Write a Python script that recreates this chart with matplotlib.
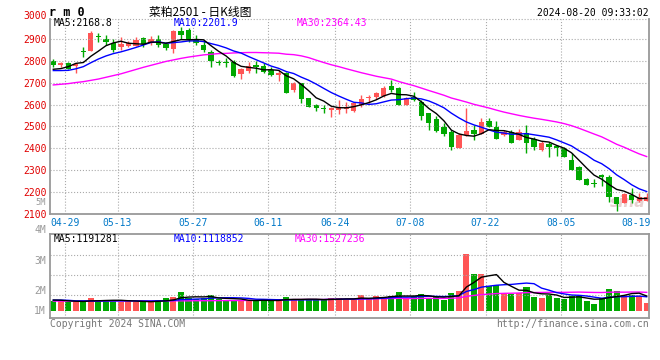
import numpy as np
import pandas as pd
import matplotlib
matplotlib.use('Agg')
import matplotlib.pyplot as plt

W, H = 660, 360

# trading days (CZCE), holidays removed
holidays = ['2024-05-01', '2024-05-02', '2024-05-03', '2024-06-10']
days = pd.bdate_range('2024-04-25', '2024-08-20')
days = days[~days.isin(pd.to_datetime(holidays))]
day_labels = list(days.strftime('%m-%d'))

tick_labels = ['04-29', '05-13', '05-27', '06-11', '06-24', '07-08', '07-22', '08-05', '08-19']

opens = np.array([2803, 2781, 2790, 2780, 2844, 2849, 2913, 2902, 2882, 2867,
                  2870, 2872, 2905, 2882, 2901, 2878, 2855, 2941, 2944, 2901,
                  2875, 2844, 2796, 2798, 2798, 2739, 2757, 2783, 2778, 2760,
                  2737, 2744, 2668, 2702, 2633, 2599, 2587, 2576, 2576, 2579,
                  2573, 2599, 2631, 2634, 2640, 2686, 2676, 2599, 2637, 2614,
                  2560, 2533, 2499, 2476, 2400, 2461, 2484, 2465, 2527, 2499,
                  2461, 2476, 2438, 2472, 2441, 2392, 2418, 2410, 2403, 2346,
                  2315, 2259, 2239, 2277, 2269, 2177, 2147, 2185, 2159, 2159])
highs = np.array([2812, 2798, 2795, 2790, 2864, 2939, 2931, 2921, 2901, 2913,
                  2895, 2913, 2913, 2916, 2921, 2890, 2944, 2956, 2951, 2921,
                  2898, 2852, 2806, 2813, 2806, 2767, 2798, 2800, 2790, 2772,
                  2760, 2752, 2706, 2702, 2633, 2604, 2599, 2591, 2622, 2614,
                  2614, 2645, 2645, 2660, 2686, 2714, 2683, 2634, 2660, 2622,
                  2564, 2548, 2515, 2484, 2469, 2583, 2507, 2538, 2538, 2527,
                  2484, 2484, 2487, 2507, 2450, 2435, 2430, 2415, 2407, 2380,
                  2318, 2262, 2257, 2280, 2277, 2177, 2193, 2216, 2193, 2196])
lows = np.array([2775, 2775, 2763, 2748, 2821, 2849, 2890, 2875, 2844, 2852,
                 2867, 2870, 2867, 2875, 2867, 2852, 2836, 2901, 2890, 2875,
                 2844, 2775, 2783, 2775, 2726, 2720, 2744, 2745, 2748, 2732,
                 2711, 2656, 2660, 2610, 2591, 2573, 2561, 2545, 2558, 2561,
                 2568, 2591, 2607, 2625, 2634, 2660, 2599, 2599, 2619, 2530,
                 2484, 2476, 2456, 2392, 2400, 2456, 2438, 2465, 2499, 2442,
                 2456, 2423, 2438, 2380, 2392, 2389, 2361, 2364, 2358, 2300,
                 2254, 2231, 2220, 2226, 2154, 2113, 2147, 2147, 2154, 2159])
closes = np.array([2784, 2793, 2766, 2786, 2841, 2928, 2910, 2890, 2852, 2879,
                   2882, 2898, 2879, 2901, 2875, 2859, 2939, 2921, 2898, 2882,
                   2852, 2803, 2794, 2790, 2734, 2762, 2778, 2775, 2752, 2737,
                   2748, 2656, 2702, 2625, 2591, 2584, 2582, 2584, 2591, 2588,
                   2610, 2625, 2634, 2656, 2676, 2668, 2599, 2630, 2622, 2548,
                   2515, 2481, 2465, 2407, 2461, 2479, 2465, 2522, 2499, 2442,
                   2476, 2426, 2476, 2426, 2407, 2426, 2407, 2400, 2361, 2300,
                   2254, 2231, 2236, 2269, 2174, 2144, 2190, 2162, 2174, 2177])

# volume in millions
volumes = np.array([0.79, 0.79, 0.73, 0.76, 0.68, 1.02, 0.84, 0.84, 0.84, 0.68,
                    0.84, 0.73, 0.68, 0.73, 0.84, 1.02, 1.10, 1.50, 1.02, 0.94,
                    0.99, 1.26, 0.94, 0.84, 0.84, 0.84, 0.76, 0.84, 0.94, 0.76,
                    0.84, 1.10, 0.94, 0.94, 0.84, 0.84, 0.94, 1.02, 1.02, 0.94,
                    0.84, 1.26, 0.94, 1.18, 1.10, 1.18, 1.50, 0.94, 1.18, 1.34,
                    1.02, 1.10, 0.84, 1.42, 1.58, 4.49, 2.91, 2.91, 1.97, 2.05,
                    1.42, 1.34, 1.42, 1.89, 1.10, 1.02, 1.26, 1.02, 0.94, 1.18,
                    1.18, 0.79, 0.55, 1.02, 1.74, 1.58, 1.26, 1.26, 1.18, 0.63])

# moving-average values before enough history is on the chart
ma5_head = [2763, 2766, 2775, 2790]
ma10_head = [2757, 2757, 2758, 2765, 2775, 2793, 2810, 2824, 2835]
ma30_head = [2691, 2694, 2697, 2702, 2706, 2712, 2718, 2726, 2734, 2742,
             2752, 2762, 2772, 2781, 2790, 2799, 2806, 2813, 2819, 2824,
             2829, 2832, 2835, 2836, 2838, 2839, 2840, 2840, 2839]
vol_ma5_head = [0.86, 0.85, 0.80, 0.77]
vol_ma10_head = [0.86, 0.86, 0.84, 0.80, 0.80, 0.79, 0.78, 0.79, 0.80]
vol_ma30_head = [0.78, 0.78, 0.78, 0.78, 0.78, 0.78, 0.78, 0.79, 0.79, 0.79,
                 0.79, 0.79, 0.79, 0.79, 0.79, 0.80, 0.80, 0.80, 0.80, 0.81,
                 0.81, 0.81, 0.82, 0.82, 0.82, 0.83, 0.83, 0.84, 0.84]

RED = '#ff5555'
GREEN = '#00a800'
MONO = 'DejaVu Sans Mono'
FS = 7.0


def moving(values, n, head):
    out = pd.Series(values, dtype=float).rolling(n).mean().to_numpy()
    out[:n - 1] = head
    return out


def fx(px):
    return px / W


def fy(py):
    return 1 - py / H


x = np.arange(len(closes))
up = closes >= opens
colors = np.where(up, RED, GREEN)

fig = plt.figure(figsize=(W / 100, H / 100), dpi=100)
fig.patch.set_facecolor('white')

ax = fig.add_axes([fx(50), fy(213.5), 599 / W, (213.5 - 19) / H])
axv = fig.add_axes([fx(50), fy(318.3), 599 / W, (318.3 - 234.3) / H])

# faint sina watermark behind the last candles
ax.text(0.965, 0.055, 'sina', transform=ax.transAxes, fontsize=11, style='italic',
        weight='bold', color='#e8d0d0', ha='center', va='center', zorder=0)

# --- price panel ---
ax.vlines(x, lows, highs, colors=colors, linewidth=1)
body = np.maximum(np.abs(closes - opens), 4.6)
ax.bar(x, body, bottom=np.minimum(opens, closes), width=0.7, color=colors, linewidth=0)

ax.plot(x, moving(closes, 30, ma30_head), color='#ff00ff', lw=1)
ax.plot(x, moving(closes, 10, ma10_head), color='#0000ff', lw=1)
ax.plot(x, moving(closes, 5, ma5_head), color='black', lw=1)

ax.set_xlim(-0.44, 79.31)
ax.set_ylim(2100, 2994)
ax.set_yticks(range(2100, 3000, 100))
ax.set_yticklabels([str(v) for v in range(2100, 3000, 100)])

tick_pos = [day_labels.index(t) - 0.45 for t in tick_labels]
ax.set_xticks(tick_pos)
ax.set_xticklabels(tick_labels)
ax.grid(True, ls=':', color='#aaaaaa', lw=0.8)
ax.xaxis.get_gridlines()[-1].set_visible(False)
ax.axhline(2994, ls=':', color='#aaaaaa', lw=0.8, clip_on=False)

ax.tick_params(axis='y', length=0, pad=2.2, labelcolor='#e00000', labelsize=FS)
ax.tick_params(axis='x', length=0, pad=3, labelcolor='#0078c8', labelsize=FS)
for lab in ax.get_xticklabels() + ax.get_yticklabels():
    lab.set_family(MONO)

for side in ['left', 'right', 'bottom']:
    ax.spines[side].set_color('#999999')
    ax.spines[side].set_linewidth(1.3)
ax.spines['top'].set_visible(False)

# --- volume panel ---
axv.bar(x, volumes, width=0.8, color=colors, linewidth=0)
axv.plot(x, moving(volumes, 30, vol_ma30_head), color='#ff00ff', lw=1)
axv.plot(x, moving(volumes, 10, vol_ma10_head), color='#0000ff', lw=1)
axv.plot(x, moving(volumes, 5, vol_ma5_head), color='black', lw=1)
axv.set_xlim(-0.44, 79.31)
axv.set_ylim(-0.575, 6.04)
axv.set_yticks([1.236, 2.811, 4.386])
axv.set_xticks(tick_pos[:-1])
axv.grid(True, ls=':', color='#aaaaaa', lw=0.8)
axv.tick_params(length=0, labelleft=False, labelbottom=False)
for side in axv.spines:
    axv.spines[side].set_color('#999999')
    axv.spines[side].set_linewidth(1.3)

# --- texts ---
fig.text(fx(49), fy(12.5), 'r m 0', family=MONO, weight='bold', fontsize=8.5, va='center', ha='left')
fig.text(fx(200), fy(12.5), '菜粕2501 - 日K线图', family=['Noto Sans CJK SC', 'DejaVu Sans'],
         fontsize=8.5, va='center', ha='center')
fig.text(fx(649), fy(12.5), '2024-08-20 09:33:02', family=MONO, fontsize=FS, va='center', ha='right')
fig.text(fx(47), fy(16), '3000', family=MONO, fontsize=FS, color='#e00000', va='center', ha='right')

fig.text(fx(54), fy(23.5), 'MA5:2168.8', family=MONO, fontsize=FS, color='black', va='center')
fig.text(fx(174), fy(23.5), 'MA10:2201.9', family=MONO, fontsize=FS, color='#0000ff', va='center')
fig.text(fx(297), fy(23.5), 'MA30:2364.43', family=MONO, fontsize=FS, color='#ff00ff', va='center')

fig.text(fx(54), fy(238.5), 'MA5:1191281', family=MONO, fontsize=FS, color='black', va='center')
fig.text(fx(174), fy(238.5), 'MA10:1118852', family=MONO, fontsize=FS, color='#0000ff', va='center')
fig.text(fx(295), fy(238.5), 'MA30:1527236', family=MONO, fontsize=FS, color='#ff00ff', va='center')

# volume scale labels as drawn on the reference
fig.text(fx(46), fy(202.7), '5M', family=MONO, fontsize=6.2, color='#999999', va='center', ha='right')
for lab, py in [('4M', 230.5), ('3M', 260.5), ('2M', 290.5), ('1M', 311.5)]:
    fig.text(fx(46), fy(py), lab, family=MONO, fontsize=FS, color='#999999', va='center', ha='right')

fig.text(fx(50), fy(324), 'Copyright 2024 SINA.COM', family=MONO, fontsize=FS, color='#777777', va='center')
fig.text(fx(649), fy(324), 'http://finance.sina.com.cn', family=MONO, fontsize=FS, color='#777777',
         va='center', ha='right')

fig.savefig('out.png', dpi=100, facecolor='white')
